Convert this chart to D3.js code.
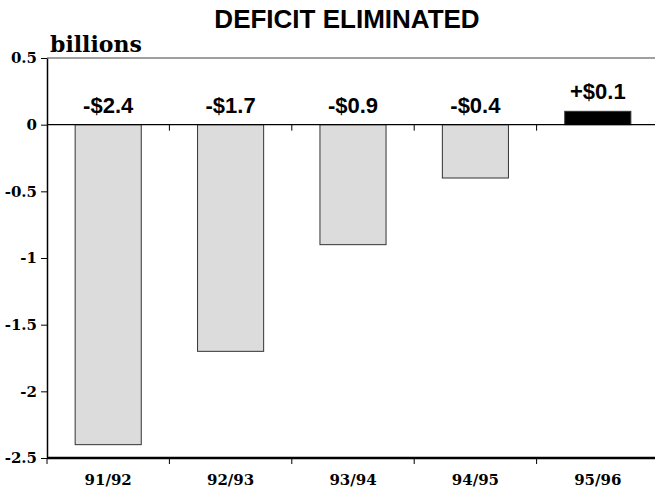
<!DOCTYPE html>
<html>
<head>
<meta charset="utf-8">
<script src="https://cdn.jsdelivr.net/npm/d3@7"></script>
<style>
  html, body { margin: 0; padding: 0; background: #fff; }
  svg { display: block; }
</style>
</head>
<body>
<svg id="chart" width="655" height="491"></svg>
<script>
// Fiscal years and net budget balance, in billions
const years = ["91/92", "92/93", "93/94", "94/95", "95/96"];
const balances = [-2.4, -1.7, -0.9, -0.4, 0.1];
const yTicks = [0.5, 0, -0.5, -1, -1.5, -2, -2.5];
const yTickLabels = ["0.5", "0", "-0.5", "-1", "-1.5", "-2", "-2.5"];

const svg = d3.select("#chart");
const W = 655;
const plotLeft = 47, plotRight = 659, plotTop = 58, plotBottom = 458;

const x = d3.scaleBand().domain(years).range([plotLeft, plotRight]).paddingInner(0.46).paddingOuter(0.23);
const xb = d3.scaleBand().domain(years).range([plotLeft, plotRight]); // category boundaries for ticks
const y = d3.scaleLinear().domain([-2.5, 0.5]).range([plotBottom, plotTop]);

const serif = "'DejaVu Serif', 'Liberation Serif', serif";
const sans = "'Liberation Sans', Arial, sans-serif";

// Title
svg.append("text")
  .attr("x", 347).attr("y", 28)
  .attr("text-anchor", "middle")
  .style("font-family", sans).style("font-weight", "bold").style("font-size", "26px")
  .text("DEFICIT ELIMINATED");

// Unit label
svg.append("text")
  .attr("x", 50).attr("y", 52)
  .style("font-family", serif).style("font-weight", "bold").style("font-size", "22px")
  .text("billions");

// Top frame line
svg.append("line")
  .attr("x1", plotLeft).attr("x2", W).attr("y1", y(0.5)).attr("y2", y(0.5))
  .attr("stroke", "#808080").attr("stroke-width", 1.5);

// Bars
const fmt = v => (v < 0 ? "-$" : "+$") + Math.abs(v).toFixed(1);
svg.selectAll("rect.bar")
  .data(years)
  .join("rect")
  .attr("class", "bar")
  .attr("x", d => x(d))
  .attr("width", x.bandwidth())
  .attr("y", (d, i) => y(Math.max(0, balances[i])))
  .attr("height", (d, i) => Math.abs(y(balances[i]) - y(0)))
  .attr("fill", (d, i) => balances[i] >= 0 ? "#000" : "#dcdcdc")
  .attr("stroke", "#333")
  .attr("stroke-width", 1);

// Value labels
svg.selectAll("text.val")
  .data(years)
  .join("text")
  .attr("class", "val")
  .attr("x", d => x(d) + x.bandwidth() / 2)
  .attr("y", (d, i) => y(Math.max(0, balances[i])) - 12)
  .attr("text-anchor", "middle")
  .style("font-family", sans).style("font-weight", "bold").style("font-size", "22px")
  .text((d, i) => fmt(balances[i]));

// Zero line with downward category ticks
svg.append("line")
  .attr("x1", plotLeft).attr("x2", W).attr("y1", y(0)).attr("y2", y(0))
  .attr("stroke", "#000").attr("stroke-width", 1.2);
svg.selectAll("line.zt")
  .data(years.slice(1))
  .join("line")
  .attr("class", "zt")
  .attr("x1", d => xb(d)).attr("x2", d => xb(d))
  .attr("y1", y(0)).attr("y2", y(0) + 6)
  .attr("stroke", "#000").attr("stroke-width", 1);

// Y axis
const yAxis = d3.axisLeft(y)
  .tickValues(yTicks)
  .tickFormat((d, i) => yTickLabels[i])
  .tickSize(6)
  .tickSizeOuter(0)
  .tickPadding(4);
const gy = svg.append("g")
  .attr("transform", `translate(${plotLeft},0)`)
  .call(yAxis)
  .attr("font-family", serif)
  .attr("font-size", 15)
  .attr("font-weight", "bold");
gy.select(".domain").attr("stroke", "#000").attr("stroke-width", 1.5);
gy.selectAll(".tick line").attr("stroke", "#000");
gy.selectAll(".tick text")
  .style("font-family", serif).style("font-weight", "bold").style("font-size", "15px")
  .attr("fill", "#000");

// Bottom axis line with boundary ticks
svg.append("line")
  .attr("x1", plotLeft).attr("x2", W).attr("y1", plotBottom).attr("y2", plotBottom)
  .attr("stroke", "#000").attr("stroke-width", 2.5);
svg.selectAll("line.bt")
  .data(years)
  .join("line")
  .attr("class", "bt")
  .attr("x1", d => xb(d)).attr("x2", d => xb(d))
  .attr("y1", plotBottom).attr("y2", plotBottom + 6)
  .attr("stroke", "#000").attr("stroke-width", 1);

// Category labels
svg.selectAll("text.cat")
  .data(years)
  .join("text")
  .attr("class", "cat")
  .attr("x", d => xb(d) + xb.bandwidth() / 2)
  .attr("y", 485)
  .attr("text-anchor", "middle")
  .style("font-family", serif).style("font-weight", "bold").style("font-size", "15px")
  .text(d => d);
</script>
</body>
</html>
